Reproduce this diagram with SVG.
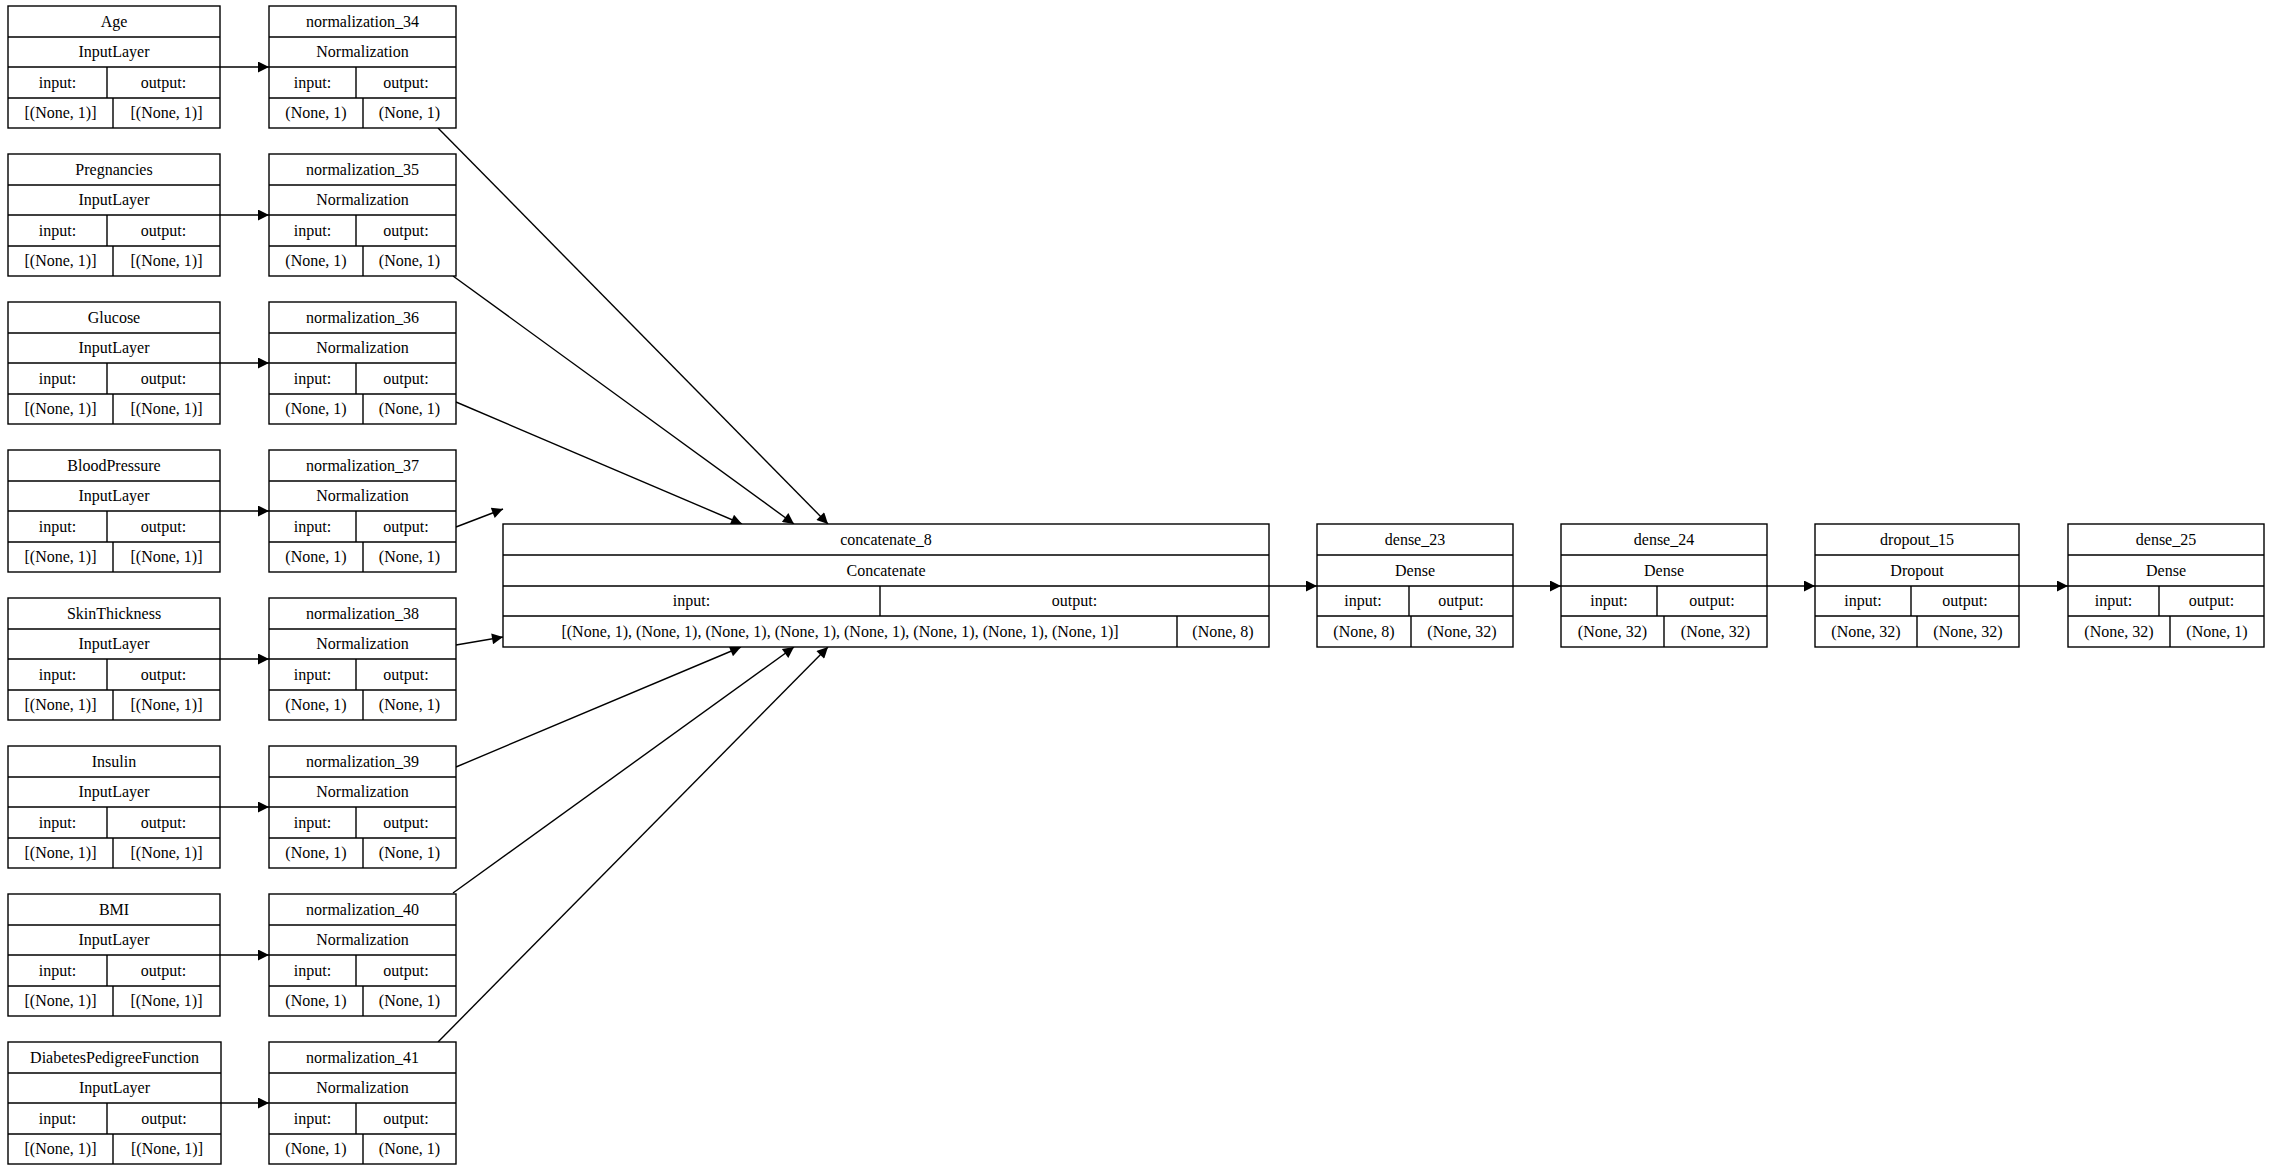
<svg xmlns="http://www.w3.org/2000/svg" width="2269" height="1171" viewBox="0 0 2269 1171">
<style>
rect{fill:#fff;stroke:#000;stroke-width:1.4}
g path{stroke:#000;stroke-width:1.4;fill:none}
text{font-family:"Liberation Serif","Times New Roman",serif;font-size:16px;text-anchor:middle;fill:#000}
#edges line{stroke:#000;stroke-width:1.4;marker-end:url(#ah)}
</style>
<defs><marker id="ah" viewBox="0 0 10 10" refX="10" refY="5" markerUnits="userSpaceOnUse" markerWidth="15" markerHeight="11" orient="auto"><path d="M0 0L10 5L0 10Z" fill="#000"/></marker></defs>
<rect x="0" y="0" width="2269" height="1171" style="stroke:none"/>
<g id="edges">
<line x1="220" y1="67" x2="269" y2="67"/>
<line x1="220" y1="215" x2="269" y2="215"/>
<line x1="220" y1="363" x2="269" y2="363"/>
<line x1="220" y1="511" x2="269" y2="511"/>
<line x1="220" y1="659" x2="269" y2="659"/>
<line x1="220" y1="807" x2="269" y2="807"/>
<line x1="220" y1="955" x2="269" y2="955"/>
<line x1="221" y1="1103" x2="269" y2="1103"/>
<line x1="438" y1="128" x2="828" y2="524"/>
<line x1="453" y1="276" x2="794" y2="524"/>
<line x1="456" y1="402" x2="742" y2="524"/>
<line x1="456" y1="527" x2="503" y2="509"/>
<line x1="456" y1="645" x2="503" y2="637"/>
<line x1="456" y1="767" x2="741" y2="647"/>
<line x1="453" y1="893" x2="794" y2="647"/>
<line x1="438" y1="1042" x2="828" y2="647"/>
<line x1="1269" y1="586" x2="1317" y2="586"/>
<line x1="1513" y1="586" x2="1561" y2="586"/>
<line x1="1767" y1="586" x2="1815" y2="586"/>
<line x1="2019" y1="586" x2="2068" y2="586"/>
</g>
<g id="in_age"><rect x="8" y="6" width="212" height="122"/><path d="M8 37H220M8 67H220M8 98H220M107 67V98M113 98V128"/><text x="114" y="27">Age</text><text x="114" y="57">InputLayer</text><text x="57.5" y="88">input:</text><text x="163.5" y="88">output:</text><text x="60.5" y="118">[(None, 1)]</text><text x="166.5" y="118">[(None, 1)]</text></g>
<g id="in_preg"><rect x="8" y="154" width="212" height="122"/><path d="M8 185H220M8 215H220M8 246H220M107 215V246M113 246V276"/><text x="114" y="175">Pregnancies</text><text x="114" y="205">InputLayer</text><text x="57.5" y="236">input:</text><text x="163.5" y="236">output:</text><text x="60.5" y="266">[(None, 1)]</text><text x="166.5" y="266">[(None, 1)]</text></g>
<g id="in_glu"><rect x="8" y="302" width="212" height="122"/><path d="M8 333H220M8 363H220M8 394H220M107 363V394M113 394V424"/><text x="114" y="323">Glucose</text><text x="114" y="353">InputLayer</text><text x="57.5" y="384">input:</text><text x="163.5" y="384">output:</text><text x="60.5" y="414">[(None, 1)]</text><text x="166.5" y="414">[(None, 1)]</text></g>
<g id="in_bp"><rect x="8" y="450" width="212" height="122"/><path d="M8 481H220M8 511H220M8 542H220M107 511V542M113 542V572"/><text x="114" y="471">BloodPressure</text><text x="114" y="501">InputLayer</text><text x="57.5" y="532">input:</text><text x="163.5" y="532">output:</text><text x="60.5" y="562">[(None, 1)]</text><text x="166.5" y="562">[(None, 1)]</text></g>
<g id="in_skin"><rect x="8" y="598" width="212" height="122"/><path d="M8 629H220M8 659H220M8 690H220M107 659V690M113 690V720"/><text x="114" y="619">SkinThickness</text><text x="114" y="649">InputLayer</text><text x="57.5" y="680">input:</text><text x="163.5" y="680">output:</text><text x="60.5" y="710">[(None, 1)]</text><text x="166.5" y="710">[(None, 1)]</text></g>
<g id="in_ins"><rect x="8" y="746" width="212" height="122"/><path d="M8 777H220M8 807H220M8 838H220M107 807V838M113 838V868"/><text x="114" y="767">Insulin</text><text x="114" y="797">InputLayer</text><text x="57.5" y="828">input:</text><text x="163.5" y="828">output:</text><text x="60.5" y="858">[(None, 1)]</text><text x="166.5" y="858">[(None, 1)]</text></g>
<g id="in_bmi"><rect x="8" y="894" width="212" height="122"/><path d="M8 925H220M8 955H220M8 986H220M107 955V986M113 986V1016"/><text x="114" y="915">BMI</text><text x="114" y="945">InputLayer</text><text x="57.5" y="976">input:</text><text x="163.5" y="976">output:</text><text x="60.5" y="1006">[(None, 1)]</text><text x="166.5" y="1006">[(None, 1)]</text></g>
<g id="in_dpf"><rect x="8" y="1042" width="213" height="122"/><path d="M8 1073H221M8 1103H221M8 1134H221M107 1103V1134M113 1134V1164"/><text x="114.5" y="1063">DiabetesPedigreeFunction</text><text x="114.5" y="1093">InputLayer</text><text x="57.5" y="1124">input:</text><text x="164" y="1124">output:</text><text x="60.5" y="1154">[(None, 1)]</text><text x="167" y="1154">[(None, 1)]</text></g>
<g id="norm34"><rect x="269" y="6" width="187" height="122"/><path d="M269 37H456M269 67H456M269 98H456M356 67V98M363 98V128"/><text x="362.5" y="27">normalization_34</text><text x="362.5" y="57">Normalization</text><text x="312.5" y="88">input:</text><text x="406" y="88">output:</text><text x="316" y="118">(None, 1)</text><text x="409.5" y="118">(None, 1)</text></g>
<g id="norm35"><rect x="269" y="154" width="187" height="122"/><path d="M269 185H456M269 215H456M269 246H456M356 215V246M363 246V276"/><text x="362.5" y="175">normalization_35</text><text x="362.5" y="205">Normalization</text><text x="312.5" y="236">input:</text><text x="406" y="236">output:</text><text x="316" y="266">(None, 1)</text><text x="409.5" y="266">(None, 1)</text></g>
<g id="norm36"><rect x="269" y="302" width="187" height="122"/><path d="M269 333H456M269 363H456M269 394H456M356 363V394M363 394V424"/><text x="362.5" y="323">normalization_36</text><text x="362.5" y="353">Normalization</text><text x="312.5" y="384">input:</text><text x="406" y="384">output:</text><text x="316" y="414">(None, 1)</text><text x="409.5" y="414">(None, 1)</text></g>
<g id="norm37"><rect x="269" y="450" width="187" height="122"/><path d="M269 481H456M269 511H456M269 542H456M356 511V542M363 542V572"/><text x="362.5" y="471">normalization_37</text><text x="362.5" y="501">Normalization</text><text x="312.5" y="532">input:</text><text x="406" y="532">output:</text><text x="316" y="562">(None, 1)</text><text x="409.5" y="562">(None, 1)</text></g>
<g id="norm38"><rect x="269" y="598" width="187" height="122"/><path d="M269 629H456M269 659H456M269 690H456M356 659V690M363 690V720"/><text x="362.5" y="619">normalization_38</text><text x="362.5" y="649">Normalization</text><text x="312.5" y="680">input:</text><text x="406" y="680">output:</text><text x="316" y="710">(None, 1)</text><text x="409.5" y="710">(None, 1)</text></g>
<g id="norm39"><rect x="269" y="746" width="187" height="122"/><path d="M269 777H456M269 807H456M269 838H456M356 807V838M363 838V868"/><text x="362.5" y="767">normalization_39</text><text x="362.5" y="797">Normalization</text><text x="312.5" y="828">input:</text><text x="406" y="828">output:</text><text x="316" y="858">(None, 1)</text><text x="409.5" y="858">(None, 1)</text></g>
<g id="norm40"><rect x="269" y="894" width="187" height="122"/><path d="M269 925H456M269 955H456M269 986H456M356 955V986M363 986V1016"/><text x="362.5" y="915">normalization_40</text><text x="362.5" y="945">Normalization</text><text x="312.5" y="976">input:</text><text x="406" y="976">output:</text><text x="316" y="1006">(None, 1)</text><text x="409.5" y="1006">(None, 1)</text></g>
<g id="norm41"><rect x="269" y="1042" width="187" height="122"/><path d="M269 1073H456M269 1103H456M269 1134H456M356 1103V1134M363 1134V1164"/><text x="362.5" y="1063">normalization_41</text><text x="362.5" y="1093">Normalization</text><text x="312.5" y="1124">input:</text><text x="406" y="1124">output:</text><text x="316" y="1154">(None, 1)</text><text x="409.5" y="1154">(None, 1)</text></g>
<g id="concat"><rect x="503" y="524" width="766" height="123"/><path d="M503 555H1269M503 586H1269M503 616H1269M880 586V616M1177 616V647"/><text x="886" y="545">concatenate_8</text><text x="886" y="576">Concatenate</text><text x="691.5" y="606">input:</text><text x="1074.5" y="606">output:</text><text x="840" y="637">[(None, 1), (None, 1), (None, 1), (None, 1), (None, 1), (None, 1), (None, 1), (None, 1)]</text><text x="1223" y="637">(None, 8)</text></g>
<g id="dense23"><rect x="1317" y="524" width="196" height="123"/><path d="M1317 555H1513M1317 586H1513M1317 616H1513M1409 586V616M1411 616V647"/><text x="1415" y="545">dense_23</text><text x="1415" y="576">Dense</text><text x="1363" y="606">input:</text><text x="1461" y="606">output:</text><text x="1364" y="637">(None, 8)</text><text x="1462" y="637">(None, 32)</text></g>
<g id="dense24"><rect x="1561" y="524" width="206" height="123"/><path d="M1561 555H1767M1561 586H1767M1561 616H1767M1657 586V616M1664 616V647"/><text x="1664" y="545">dense_24</text><text x="1664" y="576">Dense</text><text x="1609" y="606">input:</text><text x="1712" y="606">output:</text><text x="1612.5" y="637">(None, 32)</text><text x="1715.5" y="637">(None, 32)</text></g>
<g id="dropout15"><rect x="1815" y="524" width="204" height="123"/><path d="M1815 555H2019M1815 586H2019M1815 616H2019M1911 586V616M1917 616V647"/><text x="1917" y="545">dropout_15</text><text x="1917" y="576">Dropout</text><text x="1863" y="606">input:</text><text x="1965" y="606">output:</text><text x="1866" y="637">(None, 32)</text><text x="1968" y="637">(None, 32)</text></g>
<g id="dense25"><rect x="2068" y="524" width="196" height="123"/><path d="M2068 555H2264M2068 586H2264M2068 616H2264M2159 586V616M2170 616V647"/><text x="2166" y="545">dense_25</text><text x="2166" y="576">Dense</text><text x="2113.5" y="606">input:</text><text x="2211.5" y="606">output:</text><text x="2119" y="637">(None, 32)</text><text x="2217" y="637">(None, 1)</text></g>
</svg>
